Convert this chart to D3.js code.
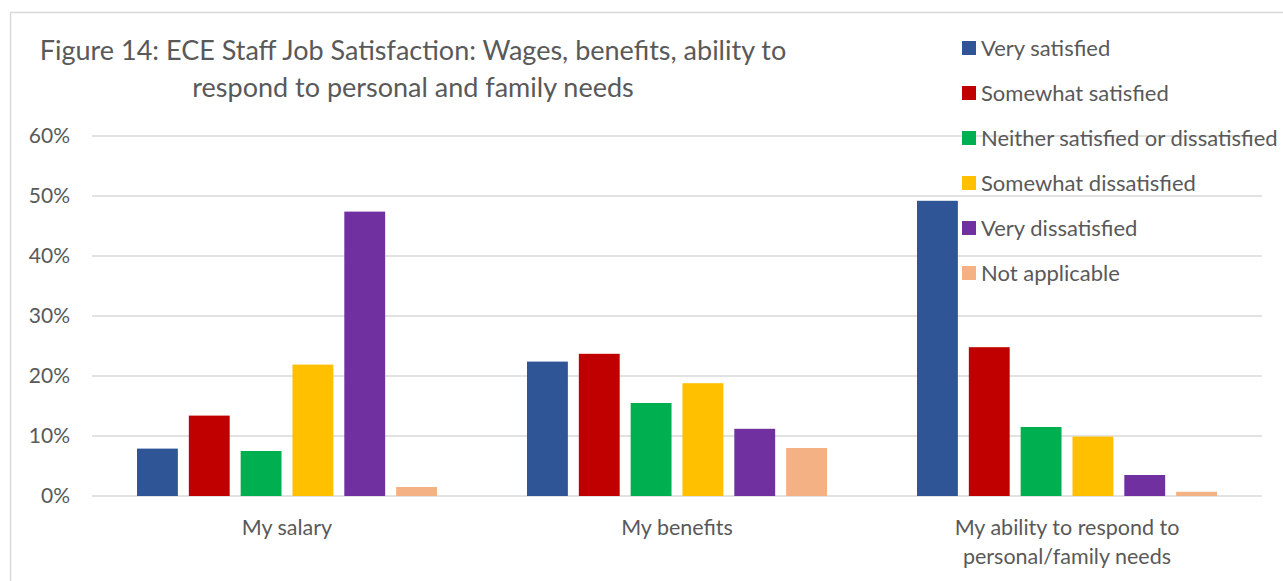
<!DOCTYPE html>
<html>
<head>
<meta charset="utf-8">
<script src="https://cdn.jsdelivr.net/npm/d3@7"></script>
<style>
  html, body { margin: 0; padding: 0; background: #fff; }
  svg { display: block; }
  text { font-family: Lato, "Open Sans", sans-serif; fill: #595959; }
</style>
</head>
<body>
<svg id="chart" width="1283" height="581"></svg>
<script>
// Survey categories and response series (share of ECE staff)
const categories = ["My salary", "My benefits", "My ability to respond to personal/family needs"];
const categoryLines = [["My salary"], ["My benefits"], ["My ability to respond to", "personal/family needs"]];
const seriesNames = [
  "Very satisfied",
  "Somewhat satisfied",
  "Neither satisfied or dissatisfied",
  "Somewhat dissatisfied",
  "Very dissatisfied",
  "Not applicable"
];
const verySatisfied       = [0.079, 0.224, 0.492];
const somewhatSatisfied   = [0.134, 0.237, 0.248];
const neither             = [0.075, 0.155, 0.115];
const somewhatDissatisfied= [0.219, 0.188, 0.099];
const veryDissatisfied    = [0.474, 0.112, 0.035];
const notApplicable       = [0.015, 0.080, 0.007];
const seriesValues = [verySatisfied, somewhatSatisfied, neither, somewhatDissatisfied, veryDissatisfied, notApplicable];
const seriesColors = ["#2F5597", "#C00000", "#00B050", "#FFC000", "#7030A0", "#F4B183"];
const yTicks = [0, 0.1, 0.2, 0.3, 0.4, 0.5, 0.6];
const titleLines = [
  "Figure 14: ECE Staff Job Satisfaction: Wages, benefits, ability to",
  "respond to personal and family needs"
];

const svg = d3.select("#chart");

// Chart area frame
svg.append("rect")
  .attr("x", 10.5).attr("y", 12.5)
  .attr("width", 1290).attr("height", 600)
  .attr("fill", "#fff")
  .attr("stroke", "#d9d9d9").attr("stroke-width", 1.5);

const plot = { left: 92, right: 1262, top: 136, bottom: 496 };

const x0 = d3.scaleBand()
  .domain(categories)
  .range([plot.left, plot.right])
  .paddingInner(0).paddingOuter(0);

// bar cluster centred inside each category band
const clusterWidth = 300;
const x1 = d3.scaleBand()
  .domain(d3.range(seriesNames.length))
  .range([(x0.bandwidth() - clusterWidth) / 2, (x0.bandwidth() + clusterWidth) / 2])
  .paddingInner(11 / 52)
  .paddingOuter(0);

const y = d3.scaleLinear().domain([0, 0.6]).range([plot.bottom, plot.top]);

// Gridlines
svg.append("g")
  .selectAll("line")
  .data(yTicks)
  .join("line")
  .attr("x1", plot.left).attr("x2", plot.right)
  .attr("y1", d => y(d)).attr("y2", d => y(d))
  .attr("stroke", "#d9d9d9").attr("stroke-width", 1.5);

// Y axis labels
const yAxis = d3.axisLeft(y)
  .tickValues(yTicks)
  .tickFormat(d3.format(".0%"))
  .tickSize(0)
  .tickPadding(22);
const yg = svg.append("g").attr("transform", `translate(${plot.left},0)`).call(yAxis);
yg.select(".domain").remove();
yg.selectAll("text").attr("font-size", 21).style("fill", "#595959")
  .attr("font-family", "Lato, 'Open Sans', sans-serif");

// Bars
const groups = svg.append("g")
  .selectAll("g")
  .data(categories)
  .join("g")
  .attr("transform", d => `translate(${x0(d)},0)`);

groups.selectAll("rect")
  .data((d, ci) => seriesValues.map((vals, si) => ({ si, v: vals[ci] })))
  .join("rect")
  .attr("x", d => x1(d.si))
  .attr("width", x1.bandwidth())
  .attr("y", d => y(d.v))
  .attr("height", d => y(0) - y(d.v))
  .attr("fill", d => seriesColors[d.si]);

// Category labels
const catLabels = svg.append("g")
  .selectAll("text")
  .data(categories)
  .join("text")
  .attr("x", d => x0(d) + x0.bandwidth() / 2)
  .attr("y", 535)
  .attr("text-anchor", "middle")
  .attr("font-size", 21.5);
catLabels.each(function (d, i) {
  d3.select(this).selectAll("tspan")
    .data(categoryLines[i])
    .join("tspan")
    .attr("x", x0(d) + x0.bandwidth() / 2)
    .attr("dy", (t, j) => j === 0 ? 0 : 29)
    .text(t => t);
});

// Title
svg.append("g")
  .selectAll("text")
  .data(titleLines)
  .join("text")
  .attr("x", 413)
  .attr("y", (d, i) => 60 + i * 37)
  .attr("text-anchor", "middle")
  .attr("font-size", 27)
  .text(d => d);

// Legend
const legend = svg.append("g")
  .selectAll("g")
  .data(seriesNames)
  .join("g")
  .attr("transform", (d, i) => `translate(962,${48 + i * 45})`);
legend.append("rect")
  .attr("x", 0).attr("y", -7)
  .attr("width", 14).attr("height", 14)
  .attr("fill", (d, i) => seriesColors[i]);
legend.append("text")
  .attr("x", 19).attr("y", 8)
  .attr("font-size", 22)
  .text(d => d);
</script>
</body>
</html>
